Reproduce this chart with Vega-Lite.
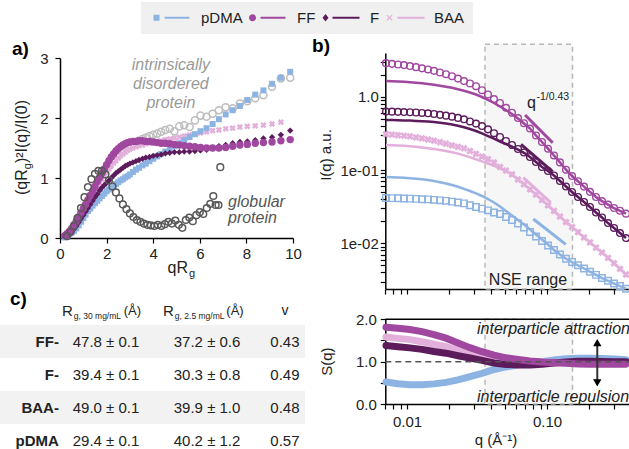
{
"$schema": "https://vega.github.io/schema/vega-lite/v6.json",
"width": 629, "height": 449, "autosize": "none", "padding": 0, "background": "white",
"data": {"values": [{}]},
"datasets": {
"sa": [
{"x":0.2,"pDMA":0.01,"FF":0.04,"F":null,"BAA":null,"IDP":null},
{"x":0.3,"pDMA":0.03,"FF":0.07,"F":0.03,"BAA":0.05,"IDP":0.05},
{"x":0.4,"pDMA":0.06,"FF":0.11,"F":0.06,"BAA":0.08,"IDP":null},
{"x":0.5,"pDMA":0.09,"FF":0.16,"F":0.10,"BAA":0.13,"IDP":0.13},
{"x":0.6,"pDMA":0.12,"FF":0.22,"F":0.15,"BAA":0.18,"IDP":null},
{"x":0.7,"pDMA":0.16,"FF":0.28,"F":0.20,"BAA":0.24,"IDP":0.25},
{"x":0.8,"pDMA":0.21,"FF":0.35,"F":0.26,"BAA":0.30,"IDP":null},
{"x":0.9,"pDMA":0.27,"FF":0.42,"F":0.32,"BAA":0.37,"IDP":0.40},
{"x":1.0,"pDMA":0.33,"FF":0.49,"F":0.38,"BAA":0.43,"IDP":null},
{"x":1.1,"pDMA":0.39,"FF":0.56,"F":0.44,"BAA":0.50,"IDP":0.55},
{"x":1.2,"pDMA":0.45,"FF":0.64,"F":0.50,"BAA":0.57,"IDP":null},
{"x":1.3,"pDMA":0.49,"FF":0.71,"F":0.56,"BAA":0.64,"IDP":0.70},
{"x":1.4,"pDMA":0.54,"FF":0.78,"F":0.62,"BAA":0.71,"IDP":null},
{"x":1.5,"pDMA":0.58,"FF":0.86,"F":0.68,"BAA":0.78,"IDP":0.84},
{"x":1.6,"pDMA":0.62,"FF":0.94,"F":0.73,"BAA":0.85,"IDP":null},
{"x":1.7,"pDMA":0.66,"FF":1.01,"F":0.79,"BAA":0.92,"IDP":0.98},
{"x":1.8,"pDMA":0.70,"FF":1.08,"F":0.84,"BAA":0.98,"IDP":null},
{"x":1.9,"pDMA":0.74,"FF":1.15,"F":0.88,"BAA":1.04,"IDP":1.10},
{"x":2.0,"pDMA":0.78,"FF":1.22,"F":0.92,"BAA":1.10,"IDP":null},
{"x":2.1,"pDMA":0.81,"FF":1.29,"F":0.96,"BAA":1.15,"IDP":1.20},
{"x":2.2,"pDMA":0.84,"FF":1.35,"F":1.00,"BAA":1.20,"IDP":null},
{"x":2.3,"pDMA":0.87,"FF":1.40,"F":1.04,"BAA":1.25,"IDP":1.30},
{"x":2.4,"pDMA":0.90,"FF":1.45,"F":1.08,"BAA":1.29,"IDP":null},
{"x":2.5,"pDMA":0.93,"FF":1.49,"F":1.11,"BAA":1.33,"IDP":1.38},
{"x":2.6,"pDMA":0.96,"FF":1.52,"F":1.14,"BAA":1.37,"IDP":null},
{"x":2.7,"pDMA":0.98,"FF":1.55,"F":1.17,"BAA":1.40,"IDP":1.45},
{"x":2.8,"pDMA":1.01,"FF":1.57,"F":1.20,"BAA":1.43,"IDP":null},
{"x":2.9,"pDMA":1.03,"FF":1.59,"F":1.22,"BAA":1.46,"IDP":1.52},
{"x":3.0,"pDMA":1.06,"FF":1.60,"F":1.24,"BAA":1.48,"IDP":null},
{"x":3.13,"pDMA":1.10,"FF":1.61,"F":1.26,"BAA":1.50,"IDP":1.58},
{"x":3.26,"pDMA":1.14,"FF":1.61,"F":1.28,"BAA":1.52,"IDP":1.60},
{"x":3.39,"pDMA":1.17,"FF":1.62,"F":1.30,"BAA":1.54,"IDP":1.62},
{"x":3.54,"pDMA":1.21,"FF":1.62,"F":1.32,"BAA":1.55,"IDP":1.65},
{"x":3.68,"pDMA":1.24,"FF":1.61,"F":1.34,"BAA":1.57,"IDP":1.67},
{"x":3.84,"pDMA":1.28,"FF":1.61,"F":1.35,"BAA":1.58,"IDP":1.70},
{"x":4.0,"pDMA":1.32,"FF":1.60,"F":1.37,"BAA":1.60,"IDP":1.72},
{"x":4.17,"pDMA":1.36,"FF":1.59,"F":1.38,"BAA":1.61,"IDP":1.74},
{"x":4.34,"pDMA":1.40,"FF":1.58,"F":1.39,"BAA":1.62,"IDP":1.77},
{"x":4.52,"pDMA":1.44,"FF":1.58,"F":1.41,"BAA":1.64,"IDP":1.80},
{"x":4.71,"pDMA":1.48,"FF":1.57,"F":1.42,"BAA":1.65,"IDP":1.82},
{"x":4.91,"pDMA":1.53,"FF":1.56,"F":1.43,"BAA":1.67,"IDP":1.78},
{"x":5.12,"pDMA":1.58,"FF":1.55,"F":1.43,"BAA":1.68,"IDP":1.86},
{"x":5.33,"pDMA":1.63,"FF":1.54,"F":1.44,"BAA":1.70,"IDP":1.88},
{"x":5.56,"pDMA":1.68,"FF":1.53,"F":1.44,"BAA":1.72,"IDP":1.85},
{"x":5.79,"pDMA":1.73,"FF":1.52,"F":1.45,"BAA":1.73,"IDP":1.96},
{"x":6.03,"pDMA":1.78,"FF":1.51,"F":1.46,"BAA":1.75,"IDP":2.04},
{"x":6.29,"pDMA":1.83,"FF":1.50,"F":1.47,"BAA":1.77,"IDP":2.02},
{"x":6.55,"pDMA":1.90,"FF":1.50,"F":1.50,"BAA":1.79,"IDP":2.07},
{"x":6.82,"pDMA":1.98,"FF":1.50,"F":1.53,"BAA":1.80,"IDP":2.13},
{"x":7.11,"pDMA":2.06,"FF":1.51,"F":1.55,"BAA":1.82,"IDP":2.18},
{"x":7.41,"pDMA":2.13,"FF":1.53,"F":1.58,"BAA":1.83,"IDP":2.16},
{"x":7.72,"pDMA":2.20,"FF":1.55,"F":1.60,"BAA":1.85,"IDP":2.24},
{"x":8.04,"pDMA":2.30,"FF":1.56,"F":1.61,"BAA":1.86,"IDP":2.28},
{"x":8.38,"pDMA":2.39,"FF":1.58,"F":1.63,"BAA":1.87,"IDP":2.33},
{"x":8.73,"pDMA":2.46,"FF":1.59,"F":1.66,"BAA":1.88,"IDP":2.38},
{"x":9.1,"pDMA":2.57,"FF":1.60,"F":1.68,"BAA":1.90,"IDP":2.52},
{"x":9.48,"pDMA":2.67,"FF":1.62,"F":1.72,"BAA":1.93,"IDP":2.66},
{"x":9.88,"pDMA":2.77,"FF":1.64,"F":1.79,"BAA":null,"IDP":2.67}
],
"glob": [
{"x":0.3,"y":0.03},{"x":0.45,"y":0.1},{"x":0.6,"y":0.2},{"x":0.75,"y":0.33},{"x":0.9,"y":0.5},{"x":1.05,"y":0.68},{"x":1.2,"y":0.85},{"x":1.35,"y":0.98},{"x":1.5,"y":1.07},{"x":1.65,"y":1.12},{"x":1.8,"y":1.12},{"x":1.95,"y":1.06},{"x":2.1,"y":0.96},{"x":2.25,"y":0.86},{"x":2.4,"y":0.76},{"x":2.55,"y":0.66},{"x":2.7,"y":0.56},{"x":2.85,"y":0.48},{"x":3.0,"y":0.41},{"x":3.15,"y":0.35},{"x":3.3,"y":0.3},{"x":3.45,"y":0.27},{"x":3.6,"y":0.24},{"x":3.75,"y":0.22},{"x":3.9,"y":0.21},{"x":4.05,"y":0.2},{"x":4.2,"y":0.22},{"x":4.35,"y":0.2},{"x":4.5,"y":0.23},{"x":4.65,"y":0.27},{"x":4.8,"y":0.24},{"x":4.95,"y":0.29},{"x":5.1,"y":0.22},{"x":5.25,"y":0.17},{"x":5.4,"y":0.3},{"x":5.55,"y":0.34},{"x":5.7,"y":0.28},{"x":5.85,"y":0.38},{"x":6.0,"y":0.43},{"x":6.15,"y":0.4},{"x":6.3,"y":0.5},{"x":6.45,"y":0.57},{"x":6.58,"y":0.7},{"x":6.68,"y":0.55},{"x":6.8,"y":0.55},{"x":6.88,"y":1.18}
],
"sb": [
{"q":0.00708,"FF":2.873,"F":0.628,"BAA":0.3089,"pDMA":0.0415,"FFl":1.64,"Fl":0.481,"BAAl":0.2194,"pDMAl":0.0803},
{"q":0.00781,"FF":2.811,"F":0.626,"BAA":0.3041,"pDMA":0.04137,"FFl":1.627,"Fl":0.4795,"BAAl":0.218,"pDMAl":0.0798},
{"q":0.00862,"FF":2.75,"F":0.622,"BAA":0.2984,"pDMA":0.04111,"FFl":1.612,"Fl":0.4765,"BAAl":0.216,"pDMAl":0.079},
{"q":0.00952,"FF":2.699,"F":0.618,"BAA":0.2937,"pDMA":0.04085,"FFl":1.597,"Fl":0.475,"BAAl":0.2139,"pDMAl":0.0783},
{"q":0.0105,"FF":2.623,"F":0.614,"BAA":0.2873,"pDMA":0.04072,"FFl":1.577,"Fl":0.472,"BAAl":0.2113,"pDMAl":0.0773},
{"q":0.0116,"FF":2.534,"F":0.609,"BAA":0.2784,"pDMA":0.04034,"FFl":1.552,"Fl":0.4676,"BAAl":0.2073,"pDMAl":0.0761},
{"q":0.0128,"FF":2.44,"F":0.601,"BAA":0.2698,"pDMA":0.03996,"FFl":1.523,"Fl":0.4632,"BAAl":0.2028,"pDMAl":0.0746},
{"q":0.01413,"FF":2.357,"F":0.594,"BAA":0.2607,"pDMA":0.03971,"FFl":1.49,"Fl":0.4588,"BAAl":0.1983,"pDMAl":0.073},
{"q":0.01559,"FF":2.256,"F":0.581,"BAA":0.2511,"pDMA":0.03921,"FFl":1.453,"Fl":0.4516,"BAAl":0.1934,"pDMAl":0.0708},
{"q":0.01721,"FF":2.139,"F":0.566,"BAA":0.2395,"pDMA":0.0386,"FFl":1.412,"Fl":0.4418,"BAAl":0.1874,"pDMAl":0.0682},
{"q":0.01899,"FF":2.028,"F":0.552,"BAA":0.2284,"pDMA":0.038,"FFl":1.369,"Fl":0.4308,"BAAl":0.1816,"pDMAl":0.0654},
{"q":0.02096,"FF":1.905,"F":0.535,"BAA":0.2173,"pDMA":0.03706,"FFl":1.323,"Fl":0.4175,"BAAl":0.1749,"pDMAl":0.0624},
{"q":0.02313,"FF":1.766,"F":0.514,"BAA":0.2066,"pDMA":0.03602,"FFl":1.266,"Fl":0.4021,"BAAl":0.1674,"pDMAl":0.059},
{"q":0.02554,"FF":1.637,"F":0.492,"BAA":0.1971,"pDMA":0.03502,"FFl":1.204,"Fl":0.3836,"BAAl":0.1586,"pDMAl":0.0554},
{"q":0.02818,"FF":1.514,"F":0.46,"BAA":0.1816,"pDMA":0.0331,"FFl":1.14,"Fl":0.3625,"BAAl":0.1495,"pDMAl":0.0517},
{"q":0.03111,"FF":1.391,"F":0.43,"BAA":0.1663,"pDMA":0.03128,"FFl":1.071,"Fl":0.3404,"BAAl":0.1404,"pDMAl":0.0479},
{"q":0.03433,"FF":1.227,"F":0.398,"BAA":0.1523,"pDMA":0.02974,"FFl":0.991,"Fl":0.3167,"BAAl":0.1314,"pDMAl":0.0442},
{"q":0.03789,"FF":1.072,"F":0.359,"BAA":0.1404,"pDMA":0.02819,"FFl":0.907,"Fl":0.291,"BAAl":0.1227,"pDMAl":0.0402},
{"q":0.04182,"FF":0.93,"F":0.318,"BAA":0.1265,"pDMA":0.02632,"FFl":0.821,"Fl":0.2673,"BAAl":0.1141,"pDMAl":0.036},
{"q":0.04616,"FF":0.821,"F":0.282,"BAA":0.1099,"pDMA":0.02511,"FFl":0.735,"Fl":0.2447,"BAAl":0.1065,"pDMAl":0.0318},
{"q":0.05094,"FF":0.706,"F":0.2487,"BAA":0.0981,"pDMA":0.02285,"FFl":0.658,"Fl":0.2263,"BAAl":0.0969,"pDMAl":0.0276},
{"q":0.05623,"FF":0.605,"F":0.2194,"BAA":0.0871,"pDMA":0.02079,"FFl":0.581,"Fl":0.2092,"BAAl":0.0866,"pDMAl":0.0239},
{"q":0.06207,"FF":0.512,"F":0.1934,"BAA":0.0742,"pDMA":0.01863,"FFl":0.504,"Fl":0.1904,"BAAl":0.0742,"pDMAl":0.0208},
{"q":0.0685,"FF":0.435,"F":0.1733,"BAA":0.064,"pDMA":0.01642,"FFl":0.431,"Fl":0.1717,"BAAl":0.064,"pDMAl":0.018},
{"q":0.07561,"FF":0.368,"F":0.1504,"BAA":0.0545,"pDMA":0.01426,"FFl":0.368,"Fl":0.1504,"BAAl":0.0545,"pDMAl":0.0154},
{"q":0.08346,"FF":0.2956,"F":0.1285,"BAA":0.0462,"pDMA":0.01238,"FFl":0.2956,"Fl":0.1285,"BAAl":0.0462,"pDMAl":0.0132},
{"q":0.09211,"FF":0.241,"F":0.1099,"BAA":0.039,"pDMA":0.01075,"FFl":0.241,"Fl":0.1099,"BAAl":0.039,"pDMAl":0.0113},
{"q":0.1017,"FF":0.1953,"F":0.0969,"BAA":0.033,"pDMA":0.00933,"FFl":0.1953,"Fl":0.0969,"BAAl":0.033,"pDMAl":0.00963},
{"q":0.1122,"FF":0.158,"F":0.0841,"BAA":0.0276,"pDMA":0.0081,"FFl":0.158,"Fl":0.0841,"BAAl":0.0276,"pDMAl":0.0081},
{"q":0.1238,"FF":0.127,"F":0.0708,"BAA":0.0232,"pDMA":0.00703,"FFl":0.127,"Fl":0.0708,"BAAl":0.0232,"pDMAl":0.00703},
{"q":0.1367,"FF":0.101,"F":0.0596,"BAA":0.0195,"pDMA":0.00616,"FFl":0.101,"Fl":0.0596,"BAAl":0.0195,"pDMAl":0.00616},
{"q":0.1509,"FF":0.0828,"F":0.0501,"BAA":0.0167,"pDMA":0.00556,"FFl":0.0828,"Fl":0.0501,"BAAl":0.0167,"pDMAl":0.00556},
{"q":0.1665,"FF":0.0703,"F":0.0428,"BAA":0.0142,"pDMA":0.00501,"FFl":0.0703,"Fl":0.0428,"BAAl":0.0142,"pDMAl":0.00501},
{"q":0.1838,"FF":0.0594,"F":0.0366,"BAA":0.012,"pDMA":0.00453,"FFl":0.0594,"Fl":0.0366,"BAAl":0.012,"pDMAl":0.00453},
{"q":0.2028,"FF":0.0504,"F":0.0313,"BAA":0.0103,"pDMA":0.0041,"FFl":0.0504,"Fl":0.0313,"BAAl":0.0103,"pDMAl":0.0041},
{"q":0.2239,"FF":0.0428,"F":0.0263,"BAA":0.00874,"pDMA":0.00371,"FFl":0.0428,"Fl":0.0263,"BAAl":0.00874,"pDMAl":0.00371},
{"q":0.2471,"FF":0.0376,"F":0.0225,"BAA":0.00749,"pDMA":0.00336,"FFl":0.0376,"Fl":0.0225,"BAAl":0.00749,"pDMAl":0.00336},
{"q":0.2728,"FF":0.0337,"F":0.0189,"BAA":0.00634,"pDMA":0.00308,"FFl":0.0337,"Fl":0.0189,"BAAl":0.00634,"pDMAl":0.00308},
{"q":0.301,"FF":0.0303,"F":0.0162,"BAA":0.00535,"pDMA":0.00283,"FFl":0.0303,"Fl":0.0162,"BAAl":0.00535,"pDMAl":0.00283},
{"q":0.3322,"FF":0.0278,"F":0.0138,"BAA":0.00449,"pDMA":0.00261,"FFl":0.0278,"Fl":0.0138,"BAAl":0.00449,"pDMAl":0.00261},
{"q":0.3667,"FF":0.0254,"F":0.0118,"BAA":0.00375,"pDMA":0.0024,"FFl":0.0254,"Fl":0.0118,"BAAl":0.00375,"pDMAl":0.0024}
],
"ss": [
{"q":0.00708,"FF":1.81,"F":1.38,"BAA":1.58,"pDMA":0.52},
{"q":0.00862,"FF":1.79,"F":1.35,"BAA":1.55,"pDMA":0.48},
{"q":0.0105,"FF":1.76,"F":1.325,"BAA":1.52,"pDMA":0.455},
{"q":0.0128,"FF":1.71,"F":1.29,"BAA":1.47,"pDMA":0.455},
{"q":0.01559,"FF":1.64,"F":1.24,"BAA":1.41,"pDMA":0.475},
{"q":0.01899,"FF":1.555,"F":1.2,"BAA":1.355,"pDMA":0.51},
{"q":0.02313,"FF":1.44,"F":1.14,"BAA":1.27,"pDMA":0.57},
{"q":0.02818,"FF":1.33,"F":1.085,"BAA":1.19,"pDMA":0.645},
{"q":0.03433,"FF":1.235,"F":1.03,"BAA":1.11,"pDMA":0.725},
{"q":0.04182,"FF":1.155,"F":0.97,"BAA":1.05,"pDMA":0.815},
{"q":0.05094,"FF":1.09,"F":0.935,"BAA":1.02,"pDMA":0.875},
{"q":0.06207,"FF":1.05,"F":0.92,"BAA":1.0,"pDMA":0.925},
{"q":0.07561,"FF":1.015,"F":0.92,"BAA":0.99,"pDMA":0.96},
{"q":0.09211,"FF":0.99,"F":0.94,"BAA":0.985,"pDMA":1.0},
{"q":0.1122,"FF":0.975,"F":0.97,"BAA":0.98,"pDMA":1.04},
{"q":0.1367,"FF":0.96,"F":0.99,"BAA":0.98,"pDMA":1.07},
{"q":0.1665,"FF":0.947,"F":1.01,"BAA":0.98,"pDMA":1.08},
{"q":0.2028,"FF":0.94,"F":1.01,"BAA":0.98,"pDMA":1.08},
{"q":0.2471,"FF":0.937,"F":1.005,"BAA":0.98,"pDMA":1.075},
{"q":0.301,"FF":0.937,"F":1.0,"BAA":0.98,"pDMA":1.06},
{"q":0.3667,"FF":0.94,"F":1.0,"BAA":0.98,"pDMA":1.045}
],
"seg": [
{"s":"FF","q":0.0697,"I":0.563},{"s":"FF","q":0.1098,"I":0.236},
{"s":"F","q":0.0652,"I":0.224},{"s":"F","q":0.1098,"I":0.0948},
{"s":"BAA","q":0.0677,"I":0.0785},{"s":"BAA","q":0.1063,"I":0.0358},
{"s":"pDMA","q":0.0798,"I":0.02145},{"s":"pDMA","q":0.1361,"I":0.00969}
],
"series": [{"s":"pDMA"},{"s":"FF"},{"s":"F"},{"s":"BAA"}],
"tab": [
{"name":"FF-","r30":"47.8 ± 0.1","r25":"37.2 ± 0.6","v":"0.43"},
{"name":"F-","r30":"39.4 ± 0.1","r25":"30.3 ± 0.8","v":"0.49"},
{"name":"BAA-","r30":"49.0 ± 0.1","r25":"39.9 ± 1.0","v":"0.48"},
{"name":"pDMA","r30":"29.4 ± 0.1","r25":"40.2 ± 1.2","v":"0.57"}
]
},
"layer": [
{"mark":{"type":"rect","fill":"#f6f6f6","stroke":"#b8b8b8","strokeDash":[5,4],"strokeWidth":1.5},
 "encoding":{"x":{"datum":0.03607,"type":"quantitative","scale":{"type":"log","domain":[0.007,0.4],"range":[385.3,631.3],"nice":false},"axis":null},"x2":{"datum":0.1521},
 "y":{"datum":0.00238,"type":"quantitative","scale":{"type":"log","domain":[0.00238,3.95],"range":[289,53],"nice":false},"axis":null},"y2":{"datum":5.2}}},
{"mark":{"type":"rect","fill":"#f6f6f6","stroke":"#b8b8b8","strokeDash":[5,4],"strokeWidth":1.5},
 "encoding":{"x":{"datum":0.03607,"type":"quantitative","scale":{"type":"log","domain":[0.007,0.4],"range":[385.3,631.3],"nice":false},"axis":null},"x2":{"datum":0.1521},
 "y":{"datum":0,"type":"quantitative","scale":{"type":"linear","domain":[0,2],"range":[404,319.3],"nice":false,"zero":false},"axis":null},"y2":{"datum":2}}},

{"data":{"name":"sb"},"mark":{"type":"line","strokeWidth":2.5,"color":"#a0479f"},
 "encoding":{"x":{"field":"q","type":"quantitative","scale":{"type":"log","domain":[0.007,0.4],"range":[385.3,631.3],"nice":false},"axis":null},
 "y":{"field":"FFl","type":"quantitative","scale":{"type":"log","domain":[0.00238,3.95],"range":[289,53],"nice":false},"axis":null}}},
{"data":{"name":"sb"},"mark":{"type":"line","strokeWidth":2.5,"color":"#5c1c5c"},
 "encoding":{"x":{"field":"q","type":"quantitative","scale":{"type":"log","domain":[0.007,0.4],"range":[385.3,631.3],"nice":false},"axis":null},
 "y":{"field":"Fl","type":"quantitative","scale":{"type":"log","domain":[0.00238,3.95],"range":[289,53],"nice":false},"axis":null}}},
{"data":{"name":"sb"},"mark":{"type":"line","strokeWidth":2.5,"color":"#e2b0db"},
 "encoding":{"x":{"field":"q","type":"quantitative","scale":{"type":"log","domain":[0.007,0.4],"range":[385.3,631.3],"nice":false},"axis":null},
 "y":{"field":"BAAl","type":"quantitative","scale":{"type":"log","domain":[0.00238,3.95],"range":[289,53],"nice":false},"axis":null}}},
{"data":{"name":"sb"},"mark":{"type":"line","strokeWidth":2.5,"color":"#8db3e2"},
 "encoding":{"x":{"field":"q","type":"quantitative","scale":{"type":"log","domain":[0.007,0.4],"range":[385.3,631.3],"nice":false},"axis":null},
 "y":{"field":"pDMAl","type":"quantitative","scale":{"type":"log","domain":[0.00238,3.95],"range":[289,53],"nice":false},"axis":null}}},

{"data":{"name":"sb"},"mark":{"type":"point","shape":"circle","filled":false,"size":45,"strokeWidth":1.4,"color":"#a0479f","opacity":1},
 "encoding":{"x":{"field":"q","type":"quantitative","scale":{"type":"log","domain":[0.007,0.4],"range":[385.3,631.3],"nice":false},
   "axis":{"orient":"bottom","offset":-160,"title":null,"values":[0.007,0.008,0.009,0.01,0.02,0.03,0.04,0.05,0.06,0.07,0.08,0.09,0.1,0.2,0.3,0.4],"labels":false}},
 "y":{"field":"FF","type":"quantitative","scale":{"type":"log","domain":[0.00238,3.95],"range":[289,53],"nice":false},
   "axis":{"orient":"left","offset":-385.3,"title":null,"labelPadding":2,"values":[0.003,0.004,0.005,0.006,0.007,0.008,0.009,0.01,0.02,0.03,0.04,0.05,0.06,0.07,0.08,0.09,0.1,0.2,0.3,0.4,0.5,0.6,0.7,0.8,0.9,1,2,3],
   "labelExpr":"abs(datum.value-1)<1e-9 ? '1.0' : (abs(datum.value-0.1)<1e-9 ? '1e-01' : (abs(datum.value-0.01)<1e-9 ? '1e-02' : ''))"}}}},
{"data":{"name":"sb"},"mark":{"type":"point","shape":"circle","filled":false,"size":45,"strokeWidth":1.4,"color":"#5c1c5c","opacity":1},
 "encoding":{"x":{"field":"q","type":"quantitative","scale":{"type":"log","domain":[0.007,0.4],"range":[385.3,631.3],"nice":false},"axis":null},
 "y":{"field":"F","type":"quantitative","scale":{"type":"log","domain":[0.00238,3.95],"range":[289,53],"nice":false},"axis":null}}},
{"data":{"name":"sb"},"mark":{"type":"point","shape":"cross","angle":45,"filled":true,"size":55,"color":"#e2b0db","opacity":1},
 "encoding":{"x":{"field":"q","type":"quantitative","scale":{"type":"log","domain":[0.007,0.4],"range":[385.3,631.3],"nice":false},"axis":null},
 "y":{"field":"BAA","type":"quantitative","scale":{"type":"log","domain":[0.00238,3.95],"range":[289,53],"nice":false},"axis":null}}},
{"data":{"name":"sb"},"mark":{"type":"point","shape":"square","filled":false,"size":42,"strokeWidth":1.4,"color":"#8db3e2","opacity":1},
 "encoding":{"x":{"field":"q","type":"quantitative","scale":{"type":"log","domain":[0.007,0.4],"range":[385.3,631.3],"nice":false},"axis":null},
 "y":{"field":"pDMA","type":"quantitative","scale":{"type":"log","domain":[0.00238,3.95],"range":[289,53],"nice":false},"axis":null}}},

{"data":{"name":"seg"},"transform":[{"filter":"datum.s == 'FF'"}],"mark":{"type":"line","strokeWidth":3,"color":"#a0479f"},
 "encoding":{"x":{"field":"q","type":"quantitative","scale":{"type":"log","domain":[0.007,0.4],"range":[385.3,631.3],"nice":false},"axis":null},
 "y":{"field":"I","type":"quantitative","scale":{"type":"log","domain":[0.00238,3.95],"range":[289,53],"nice":false},"axis":null}}},
{"data":{"name":"seg"},"transform":[{"filter":"datum.s == 'F'"}],"mark":{"type":"line","strokeWidth":3,"color":"#5c1c5c"},
 "encoding":{"x":{"field":"q","type":"quantitative","scale":{"type":"log","domain":[0.007,0.4],"range":[385.3,631.3],"nice":false},"axis":null},
 "y":{"field":"I","type":"quantitative","scale":{"type":"log","domain":[0.00238,3.95],"range":[289,53],"nice":false},"axis":null}}},
{"data":{"name":"seg"},"transform":[{"filter":"datum.s == 'BAA'"}],"mark":{"type":"line","strokeWidth":3,"color":"#e2b0db"},
 "encoding":{"x":{"field":"q","type":"quantitative","scale":{"type":"log","domain":[0.007,0.4],"range":[385.3,631.3],"nice":false},"axis":null},
 "y":{"field":"I","type":"quantitative","scale":{"type":"log","domain":[0.00238,3.95],"range":[289,53],"nice":false},"axis":null}}},
{"data":{"name":"seg"},"transform":[{"filter":"datum.s == 'pDMA'"}],"mark":{"type":"line","strokeWidth":3,"color":"#8db3e2"},
 "encoding":{"x":{"field":"q","type":"quantitative","scale":{"type":"log","domain":[0.007,0.4],"range":[385.3,631.3],"nice":false},"axis":null},
 "y":{"field":"I","type":"quantitative","scale":{"type":"log","domain":[0.00238,3.95],"range":[289,53],"nice":false},"axis":null}}},

{"data":{"name":"ss"},"mark":{"type":"line","strokeWidth":7,"strokeCap":"round","color":"#8db3e2"},
 "encoding":{"x":{"field":"q","type":"quantitative","scale":{"type":"log","domain":[0.007,0.4],"range":[385.3,631.3],"nice":false},
   "axis":{"orient":"bottom","offset":-45,"title":null,"labelPadding":5,"values":[0.007,0.008,0.009,0.01,0.02,0.03,0.04,0.05,0.06,0.07,0.08,0.09,0.1,0.2,0.3,0.4],
   "labelExpr":"abs(datum.value-0.01)<1e-9 ? '0.01' : (abs(datum.value-0.1)<1e-9 ? '0.10' : '')"}},
 "y":{"field":"pDMA","type":"quantitative","scale":{"type":"linear","domain":[0,2],"range":[404,319.3],"nice":false,"zero":false},
   "axis":{"orient":"left","offset":-385.3,"title":null,"labelPadding":4,"values":[0,0.5,1,1.5,2],"labelExpr":"(datum.value==0.5 || datum.value==1.5) ? '' : format(datum.value,'.1f')"}}}},
{"data":{"name":"ss"},"mark":{"type":"line","strokeWidth":7,"strokeCap":"round","color":"#e2b0db"},
 "encoding":{"x":{"field":"q","type":"quantitative","scale":{"type":"log","domain":[0.007,0.4],"range":[385.3,631.3],"nice":false},"axis":null},
 "y":{"field":"BAA","type":"quantitative","scale":{"type":"linear","domain":[0,2],"range":[404,319.3],"nice":false,"zero":false},"axis":null}}},
{"data":{"name":"ss"},"mark":{"type":"line","strokeWidth":7,"strokeCap":"round","color":"#5c1c5c"},
 "encoding":{"x":{"field":"q","type":"quantitative","scale":{"type":"log","domain":[0.007,0.4],"range":[385.3,631.3],"nice":false},"axis":null},
 "y":{"field":"F","type":"quantitative","scale":{"type":"linear","domain":[0,2],"range":[404,319.3],"nice":false,"zero":false},"axis":null}}},
{"data":{"name":"ss"},"mark":{"type":"line","strokeWidth":7,"strokeCap":"round","color":"#a0479f"},
 "encoding":{"x":{"field":"q","type":"quantitative","scale":{"type":"log","domain":[0.007,0.4],"range":[385.3,631.3],"nice":false},"axis":null},
 "y":{"field":"FF","type":"quantitative","scale":{"type":"linear","domain":[0,2],"range":[404,319.3],"nice":false,"zero":false},"axis":null}}},
{"mark":{"type":"rule","color":"#555","strokeWidth":1.5,"strokeDash":[6,4]},
 "encoding":{"x":{"datum":0.007,"type":"quantitative","scale":{"type":"log","domain":[0.007,0.4],"range":[385.3,631.3],"nice":false},"axis":null},"x2":{"datum":0.4},
 "y":{"datum":1,"type":"quantitative","scale":{"type":"linear","domain":[0,2],"range":[404,319.3],"nice":false,"zero":false},"axis":null}}},
{"mark":{"type":"rule","color":"#000","strokeWidth":1.5},
 "encoding":{"x":{"datum":0.007,"type":"quantitative","scale":{"type":"log","domain":[0.007,0.4],"range":[385.3,631.3],"nice":false},"axis":null},"x2":{"datum":0.4},
 "y":{"datum":2,"type":"quantitative","scale":{"type":"linear","domain":[0,2],"range":[404,319.3],"nice":false,"zero":false},"axis":null}}},
{"mark":{"type":"rule","color":"#333","strokeWidth":2},
 "encoding":{"x":{"datum":0.2286,"type":"quantitative","scale":{"type":"log","domain":[0.007,0.4],"range":[385.3,631.3],"nice":false},"axis":null},
 "y":{"datum":0.52,"type":"quantitative","scale":{"type":"linear","domain":[0,2],"range":[404,319.3],"nice":false,"zero":false},"axis":null},"y2":{"datum":1.42}}},
{"mark":{"type":"point","shape":"triangle-up","filled":true,"size":70,"color":"#000","opacity":1},
 "encoding":{"x":{"datum":0.2286,"type":"quantitative","scale":{"type":"log","domain":[0.007,0.4],"range":[385.3,631.3],"nice":false},"axis":null},
 "y":{"datum":1.45,"type":"quantitative","scale":{"type":"linear","domain":[0,2],"range":[404,319.3],"nice":false,"zero":false},"axis":null}}},
{"mark":{"type":"point","shape":"triangle-down","filled":true,"size":70,"color":"#000","opacity":1},
 "encoding":{"x":{"datum":0.2286,"type":"quantitative","scale":{"type":"log","domain":[0.007,0.4],"range":[385.3,631.3],"nice":false},"axis":null},
 "y":{"datum":0.5,"type":"quantitative","scale":{"type":"linear","domain":[0,2],"range":[404,319.3],"nice":false,"zero":false},"axis":null}}},

{"data":{"name":"sa"},"mark":{"type":"point","shape":"circle","filled":false,"size":50,"strokeWidth":1.5,"color":"#bdbdbd","opacity":1},
 "encoding":{"x":{"field":"x","type":"quantitative","scale":{"type":"linear","domain":[0,10],"range":[60,293],"nice":false,"zero":false},"axis":null},
 "y":{"field":"IDP","type":"quantitative","scale":{"type":"linear","domain":[0,3],"range":[238,58],"nice":false,"zero":false},"axis":null}}},
{"data":{"name":"sa"},"mark":{"type":"point","shape":"cross","angle":45,"filled":true,"size":40,"color":"#e2b0db","opacity":1},
 "encoding":{"x":{"field":"x","type":"quantitative","scale":{"type":"linear","domain":[0,10],"range":[60,293],"nice":false,"zero":false},"axis":null},
 "y":{"field":"BAA","type":"quantitative","scale":{"type":"linear","domain":[0,3],"range":[238,58],"nice":false,"zero":false},"axis":null}}},
{"data":{"name":"sa"},"mark":{"type":"point","shape":"square","filled":true,"size":36,"color":"#8db3e2","opacity":1},
 "encoding":{"x":{"field":"x","type":"quantitative","scale":{"type":"linear","domain":[0,10],"range":[60,293],"nice":false,"zero":false},
   "axis":{"orient":"bottom","offset":-211,"title":null,"values":[0,2,4,6,8,10],"labelPadding":3}},
 "y":{"field":"pDMA","type":"quantitative","scale":{"type":"linear","domain":[0,3],"range":[238,58],"nice":false,"zero":false},
   "axis":{"orient":"left","offset":-60,"title":null,"values":[0,1,2,3],"labelPadding":7}}}},
{"data":{"name":"sa"},"mark":{"type":"point","shape":"diamond","filled":true,"size":40,"color":"#5c1c5c","opacity":1},
 "encoding":{"x":{"field":"x","type":"quantitative","scale":{"type":"linear","domain":[0,10],"range":[60,293],"nice":false,"zero":false},"axis":null},
 "y":{"field":"F","type":"quantitative","scale":{"type":"linear","domain":[0,3],"range":[238,58],"nice":false,"zero":false},"axis":null}}},
{"data":{"name":"sa"},"mark":{"type":"point","shape":"circle","filled":true,"size":55,"color":"#a0479f","opacity":1},
 "encoding":{"x":{"field":"x","type":"quantitative","scale":{"type":"linear","domain":[0,10],"range":[60,293],"nice":false,"zero":false},"axis":null},
 "y":{"field":"FF","type":"quantitative","scale":{"type":"linear","domain":[0,3],"range":[238,58],"nice":false,"zero":false},"axis":null}}},
{"data":{"name":"glob"},"mark":{"type":"point","shape":"circle","filled":false,"size":45,"strokeWidth":1.5,"color":"#595959","opacity":1},
 "encoding":{"x":{"field":"x","type":"quantitative","scale":{"type":"linear","domain":[0,10],"range":[60,293],"nice":false,"zero":false},"axis":null},
 "y":{"field":"y","type":"quantitative","scale":{"type":"linear","domain":[0,3],"range":[238,58],"nice":false,"zero":false},"axis":null}}},

{"mark":{"type":"text","text":"a)","fontSize":19,"fontWeight":"bold","align":"left","baseline":"alphabetic","color":"#000"},
 "encoding":{"x":{"datum":-2.06,"type":"quantitative","scale":{"type":"linear","domain":[0,10],"range":[60,293],"nice":false,"zero":false},"axis":null},
 "y":{"datum":3.05,"type":"quantitative","scale":{"type":"linear","domain":[0,3],"range":[238,58],"nice":false,"zero":false},"axis":null}}},
{"mark":{"type":"text","text":"(qR","fontSize":16,"angle":270,"align":"left","baseline":"alphabetic","dx":-47,"color":"#222"},
 "encoding":{"x":{"datum":-1.416,"type":"quantitative","scale":{"type":"linear","domain":[0,10],"range":[60,293],"nice":false,"zero":false},"axis":null},
 "y":{"datum":1.5,"type":"quantitative","scale":{"type":"linear","domain":[0,3],"range":[238,58],"nice":false,"zero":false},"axis":null}}},
{"mark":{"type":"text","text":"g","fontSize":11,"angle":270,"align":"left","baseline":"alphabetic","dx":-21.3,"dy":3.5,"color":"#222"},
 "encoding":{"x":{"datum":-1.416,"type":"quantitative","scale":{"type":"linear","domain":[0,10],"range":[60,293],"nice":false,"zero":false},"axis":null},
 "y":{"datum":1.5,"type":"quantitative","scale":{"type":"linear","domain":[0,3],"range":[238,58],"nice":false,"zero":false},"axis":null}}},
{"mark":{"type":"text","text":")²I(q)/I(0)","fontSize":16,"angle":270,"align":"left","baseline":"alphabetic","dx":-15.1,"color":"#222"},
 "encoding":{"x":{"datum":-1.416,"type":"quantitative","scale":{"type":"linear","domain":[0,10],"range":[60,293],"nice":false,"zero":false},"axis":null},
 "y":{"datum":1.5,"type":"quantitative","scale":{"type":"linear","domain":[0,3],"range":[238,58],"nice":false,"zero":false},"axis":null}}},
{"mark":{"type":"text","text":"qR","fontSize":16,"align":"right","baseline":"alphabetic","color":"#222"},
 "encoding":{"x":{"datum":5.494,"type":"quantitative","scale":{"type":"linear","domain":[0,10],"range":[60,293],"nice":false,"zero":false},"axis":null},
 "y":{"datum":-0.583,"type":"quantitative","scale":{"type":"linear","domain":[0,3],"range":[238,58],"nice":false,"zero":false},"axis":null}}},
{"mark":{"type":"text","text":"g","fontSize":11,"align":"left","baseline":"alphabetic","dx":1,"dy":4,"color":"#222"},
 "encoding":{"x":{"datum":5.494,"type":"quantitative","scale":{"type":"linear","domain":[0,10],"range":[60,293],"nice":false,"zero":false},"axis":null},
 "y":{"datum":-0.583,"type":"quantitative","scale":{"type":"linear","domain":[0,3],"range":[238,58],"nice":false,"zero":false},"axis":null}}},
{"mark":{"type":"text","text":["intrinsically","disordered","protein"],"fontSize":16,"fontStyle":"italic","align":"center","baseline":"alphabetic","lineHeight":19,"color":"#999"},
 "encoding":{"x":{"datum":4.76,"type":"quantitative","scale":{"type":"linear","domain":[0,10],"range":[60,293],"nice":false,"zero":false},"axis":null},
 "y":{"datum":2.8,"type":"quantitative","scale":{"type":"linear","domain":[0,3],"range":[238,58],"nice":false,"zero":false},"axis":null}}},
{"mark":{"type":"text","text":["globular","protein"],"fontSize":16,"fontStyle":"italic","align":"left","baseline":"alphabetic","lineHeight":16,"color":"#555"},
 "encoding":{"x":{"datum":7.21,"type":"quantitative","scale":{"type":"linear","domain":[0,10],"range":[60,293],"nice":false,"zero":false},"axis":null},
 "y":{"datum":0.517,"type":"quantitative","scale":{"type":"linear","domain":[0,3],"range":[238,58],"nice":false,"zero":false},"axis":null}}},

{"mark":{"type":"text","text":"b)","fontSize":19,"fontWeight":"bold","align":"left","baseline":"alphabetic","color":"#000"},
 "encoding":{"x":{"datum":0.0021,"type":"quantitative","scale":{"type":"log","domain":[0.007,0.4],"range":[385.3,631.3],"nice":false},"axis":null},
 "y":{"datum":4.07,"type":"quantitative","scale":{"type":"log","domain":[0.00238,3.95],"range":[289,53],"nice":false},"axis":null}}},
{"mark":{"type":"text","text":"q","fontSize":16,"align":"left","baseline":"alphabetic","color":"#222"},
 "encoding":{"x":{"datum":0.07196,"type":"quantitative","scale":{"type":"log","domain":[0.007,0.4],"range":[385.3,631.3],"nice":false},"axis":null},
 "y":{"datum":0.7012,"type":"quantitative","scale":{"type":"log","domain":[0.00238,3.95],"range":[289,53],"nice":false},"axis":null}}},
{"mark":{"type":"text","text":"-1/0.43","fontSize":10.5,"align":"left","baseline":"alphabetic","dx":9.5,"dy":-8,"color":"#222"},
 "encoding":{"x":{"datum":0.07196,"type":"quantitative","scale":{"type":"log","domain":[0.007,0.4],"range":[385.3,631.3],"nice":false},"axis":null},
 "y":{"datum":0.7012,"type":"quantitative","scale":{"type":"log","domain":[0.00238,3.95],"range":[289,53],"nice":false},"axis":null}}},
{"mark":{"type":"text","text":"NSE range","fontSize":16,"align":"center","baseline":"middle","color":"#222"},
 "encoding":{"x":{"datum":0.0731,"type":"quantitative","scale":{"type":"log","domain":[0.007,0.4],"range":[385.3,631.3],"nice":false},"axis":null},
 "y":{"datum":0.00316,"type":"quantitative","scale":{"type":"log","domain":[0.00238,3.95],"range":[289,53],"nice":false},"axis":null}}},
{"mark":{"type":"text","text":"I(q) a.u.","fontSize":15,"angle":270,"align":"center","baseline":"alphabetic","color":"#222"},
 "encoding":{"x":{"datum":0.002866,"type":"quantitative","scale":{"type":"log","domain":[0.007,0.4],"range":[385.3,631.3],"nice":false},"axis":null},
 "y":{"datum":0.1602,"type":"quantitative","scale":{"type":"log","domain":[0.00238,3.95],"range":[289,53],"nice":false},"axis":null}}},
{"mark":{"type":"text","text":"S(q)","fontSize":15,"angle":270,"align":"center","baseline":"alphabetic","color":"#222"},
 "encoding":{"x":{"datum":0.002913,"type":"quantitative","scale":{"type":"log","domain":[0.007,0.4],"range":[385.3,631.3],"nice":false},"axis":null},
 "y":{"datum":1.0,"type":"quantitative","scale":{"type":"linear","domain":[0,2],"range":[404,319.3],"nice":false,"zero":false},"axis":null}}},
{"mark":{"type":"text","text":"q (Å⁻¹)","fontSize":15,"align":"center","baseline":"middle","color":"#222"},
 "encoding":{"x":{"datum":0.0432,"type":"quantitative","scale":{"type":"log","domain":[0.007,0.4],"range":[385.3,631.3],"nice":false},"axis":null},
 "y":{"datum":-0.85,"type":"quantitative","scale":{"type":"linear","domain":[0,2],"range":[404,319.3],"nice":false,"zero":false},"axis":null}}},
{"mark":{"type":"text","text":"interparticle attraction","fontSize":16,"fontStyle":"italic","align":"left","baseline":"middle","color":"#222"},
 "encoding":{"x":{"datum":0.03163,"type":"quantitative","scale":{"type":"log","domain":[0.007,0.4],"range":[385.3,631.3],"nice":false},"axis":null},
 "y":{"datum":1.771,"type":"quantitative","scale":{"type":"linear","domain":[0,2],"range":[404,319.3],"nice":false,"zero":false},"axis":null}}},
{"mark":{"type":"text","text":"interparticle repulsion","fontSize":16,"fontStyle":"italic","align":"left","baseline":"middle","color":"#222"},
 "encoding":{"x":{"datum":0.03163,"type":"quantitative","scale":{"type":"log","domain":[0.007,0.4],"range":[385.3,631.3],"nice":false},"axis":null},
 "y":{"datum":0.165,"type":"quantitative","scale":{"type":"linear","domain":[0,2],"range":[404,319.3],"nice":false,"zero":false},"axis":null}}},

{"data":{"name":"tab"},"transform":[{"filter":"datum.name == 'FF-' || datum.name == 'BAA-'"}],"mark":{"type":"rect","fill":"#f2f2f2"},
 "encoding":{"y":{"field":"name","type":"nominal","scale":{"type":"band","domain":["hdr","FF-","F-","BAA-","pDMA"],"range":[292,457],"paddingInner":0,"paddingOuter":0},"axis":null},
 "x":{"datum":0,"type":"quantitative","scale":{"type":"linear","domain":[0,100],"range":[0,310],"nice":false,"zero":false},"axis":null},"x2":{"datum":98.4}}},
{"data":{"name":"tab"},"mark":{"type":"text","align":"right","baseline":"middle","fontSize":15,"fontWeight":"bold","color":"#222"},
 "encoding":{"y":{"field":"name","type":"nominal","scale":{"type":"band","domain":["hdr","FF-","F-","BAA-","pDMA"],"range":[292,457],"paddingInner":0,"paddingOuter":0},"axis":null},
 "x":{"datum":19.0,"type":"quantitative","scale":{"type":"linear","domain":[0,100],"range":[0,310],"nice":false,"zero":false},"axis":null},"text":{"field":"name"}}},
{"data":{"name":"tab"},"mark":{"type":"text","align":"center","baseline":"middle","fontSize":15,"color":"#222"},
 "encoding":{"y":{"field":"name","type":"nominal","scale":{"type":"band","domain":["hdr","FF-","F-","BAA-","pDMA"],"range":[292,457],"paddingInner":0,"paddingOuter":0},"axis":null},
 "x":{"datum":34.2,"type":"quantitative","scale":{"type":"linear","domain":[0,100],"range":[0,310],"nice":false,"zero":false},"axis":null},"text":{"field":"r30"}}},
{"data":{"name":"tab"},"mark":{"type":"text","align":"center","baseline":"middle","fontSize":15,"color":"#222"},
 "encoding":{"y":{"field":"name","type":"nominal","scale":{"type":"band","domain":["hdr","FF-","F-","BAA-","pDMA"],"range":[292,457],"paddingInner":0,"paddingOuter":0},"axis":null},
 "x":{"datum":66.8,"type":"quantitative","scale":{"type":"linear","domain":[0,100],"range":[0,310],"nice":false,"zero":false},"axis":null},"text":{"field":"r25"}}},
{"data":{"name":"tab"},"mark":{"type":"text","align":"center","baseline":"middle","fontSize":15,"color":"#222"},
 "encoding":{"y":{"field":"name","type":"nominal","scale":{"type":"band","domain":["hdr","FF-","F-","BAA-","pDMA"],"range":[292,457],"paddingInner":0,"paddingOuter":0},"axis":null},
 "x":{"datum":91.9,"type":"quantitative","scale":{"type":"linear","domain":[0,100],"range":[0,310],"nice":false,"zero":false},"axis":null},"text":{"field":"v"}}},
{"mark":{"type":"text","text":"R","align":"left","baseline":"middle","fontSize":15,"dy":2.5,"color":"#222"},
 "encoding":{"y":{"datum":"hdr","type":"nominal","scale":{"type":"band","domain":["hdr","FF-","F-","BAA-","pDMA"],"range":[292,457],"paddingInner":0,"paddingOuter":0},"axis":null},
 "x":{"datum":20.0,"type":"quantitative","scale":{"type":"linear","domain":[0,100],"range":[0,310],"nice":false,"zero":false},"axis":null}}},
{"mark":{"type":"text","text":"g, 30 mg/mL","align":"left","baseline":"middle","fontSize":8.5,"dy":7,"color":"#222"},
 "encoding":{"y":{"datum":"hdr","type":"nominal","scale":{"type":"band","domain":["hdr","FF-","F-","BAA-","pDMA"],"range":[292,457],"paddingInner":0,"paddingOuter":0},"axis":null},
 "x":{"datum":23.8,"type":"quantitative","scale":{"type":"linear","domain":[0,100],"range":[0,310],"nice":false,"zero":false},"axis":null}}},
{"mark":{"type":"text","text":"(Å)","align":"left","baseline":"middle","fontSize":13,"dy":2.5,"color":"#222"},
 "encoding":{"y":{"datum":"hdr","type":"nominal","scale":{"type":"band","domain":["hdr","FF-","F-","BAA-","pDMA"],"range":[292,457],"paddingInner":0,"paddingOuter":0},"axis":null},
 "x":{"datum":39.9,"type":"quantitative","scale":{"type":"linear","domain":[0,100],"range":[0,310],"nice":false,"zero":false},"axis":null}}},
{"mark":{"type":"text","text":"R","align":"left","baseline":"middle","fontSize":15,"dy":2.5,"color":"#222"},
 "encoding":{"y":{"datum":"hdr","type":"nominal","scale":{"type":"band","domain":["hdr","FF-","F-","BAA-","pDMA"],"range":[292,457],"paddingInner":0,"paddingOuter":0},"axis":null},
 "x":{"datum":52.6,"type":"quantitative","scale":{"type":"linear","domain":[0,100],"range":[0,310],"nice":false,"zero":false},"axis":null}}},
{"mark":{"type":"text","text":"g, 2.5 mg/mL","align":"left","baseline":"middle","fontSize":8.5,"dy":7,"color":"#222"},
 "encoding":{"y":{"datum":"hdr","type":"nominal","scale":{"type":"band","domain":["hdr","FF-","F-","BAA-","pDMA"],"range":[292,457],"paddingInner":0,"paddingOuter":0},"axis":null},
 "x":{"datum":56.4,"type":"quantitative","scale":{"type":"linear","domain":[0,100],"range":[0,310],"nice":false,"zero":false},"axis":null}}},
{"mark":{"type":"text","text":"(Å)","align":"left","baseline":"middle","fontSize":13,"dy":2.5,"color":"#222"},
 "encoding":{"y":{"datum":"hdr","type":"nominal","scale":{"type":"band","domain":["hdr","FF-","F-","BAA-","pDMA"],"range":[292,457],"paddingInner":0,"paddingOuter":0},"axis":null},
 "x":{"datum":73.0,"type":"quantitative","scale":{"type":"linear","domain":[0,100],"range":[0,310],"nice":false,"zero":false},"axis":null}}},
{"mark":{"type":"text","text":"v","align":"center","baseline":"middle","fontSize":14,"dy":2.5,"color":"#222"},
 "encoding":{"y":{"datum":"hdr","type":"nominal","scale":{"type":"band","domain":["hdr","FF-","F-","BAA-","pDMA"],"range":[292,457],"paddingInner":0,"paddingOuter":0},"axis":null},
 "x":{"datum":91.9,"type":"quantitative","scale":{"type":"linear","domain":[0,100],"range":[0,310],"nice":false,"zero":false},"axis":null}}},
{"mark":{"type":"text","text":"c)","align":"left","baseline":"alphabetic","fontSize":19,"fontWeight":"bold","dy":-3.5,"color":"#000"},
 "encoding":{"y":{"datum":"hdr","type":"nominal","scale":{"type":"band","domain":["hdr","FF-","F-","BAA-","pDMA"],"range":[292,457],"paddingInner":0,"paddingOuter":0},"axis":null},
 "x":{"datum":3.2,"type":"quantitative","scale":{"type":"linear","domain":[0,100],"range":[0,310],"nice":false,"zero":false},"axis":null}}},

{"data":{"name":"series"},"mark":{"type":"point","filled":true,"opacity":0,"size":1},
 "encoding":{
  "x":{"datum":0.5,"type":"quantitative","scale":{"type":"linear","domain":[0,100],"range":[0,310],"nice":false,"zero":false},"axis":null},
  "y":{"datum":"hdr","type":"nominal","scale":{"type":"band","domain":["hdr","FF-","F-","BAA-","pDMA"],"range":[292,457],"paddingInner":0,"paddingOuter":0},"axis":null},
  "color":{"field":"s","type":"nominal","scale":{"domain":["pDMA","FF","F","BAA"],"range":["#8db3e2","#a0479f","#5c1c5c","#e2b0db"]},
    "legend":{"orient":"none","legendX":141,"legendY":2,"direction":"horizontal","title":null,"symbolOpacity":1}},
  "shape":{"field":"s","type":"nominal","scale":{"domain":["pDMA","FF","F","BAA"],"range":[
    "M-0.6,-0.6H0.6V0.6H-0.6Z M1.6,-0.2H6.6V0.2H1.6Z",
    "M0.7,0A0.7,0.7,0,1,1,-0.7,0A0.7,0.7,0,1,1,0.7,0Z M1.6,-0.2H6.6V0.2H1.6Z",
    "M0,-0.75L0.6,0L0,0.75L-0.6,0Z M1.4,-0.2H6.8V0.2H1.4Z",
    "M-0.45,-0.62L0.62,0.45L0.45,0.62L-0.62,-0.45Z M0.45,-0.62L0.62,-0.45L-0.45,0.62L-0.62,0.45Z M1.6,-0.2H7V0.2H1.6Z"]},
    "legend":{"orient":"none","legendX":141,"legendY":2,"direction":"horizontal","title":null,"symbolOpacity":1}}}}
],
"resolve": {"scale": {"x":"independent","y":"independent"}, "axis": {"x":"independent","y":"independent"}},
"config": {
 "view": {"stroke": null},
 "font": "Liberation Sans",
 "axis": {"grid": false, "domainColor": "#000", "domainWidth": 1.5, "tickColor": "#000", "tickWidth": 1.2, "tickSize": 5, "labelFontSize": 15, "labelColor": "#222", "labelFont": "Liberation Sans", "labelFlush": false, "labelOverlap": false, "zindex": 1},
 "legend": {"symbolSize": 100, "labelOffset": 37, "columnPadding": 2, "padding": 8, "fillColor": "#f0f0f0", "labelFontSize": 15, "labelColor": "#222", "labelFont": "Liberation Sans", "symbolStrokeWidth": 0, "symbolOpacity": 1}
}
}
